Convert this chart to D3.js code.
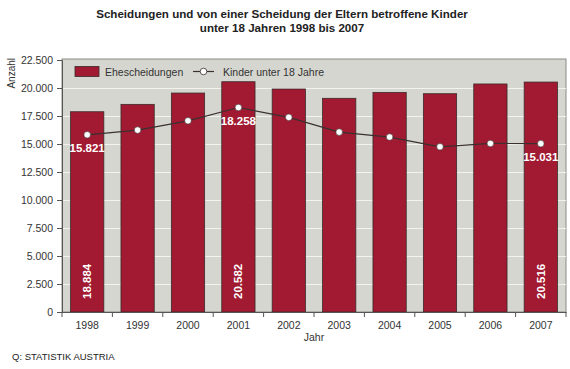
<!DOCTYPE html>
<html>
<head>
<meta charset="utf-8">
<script src="https://cdn.jsdelivr.net/npm/d3@7"></script>
<style>
  body { margin: 0; background: #fff; }
  text { font-family: "Liberation Sans", Arial, sans-serif; }
</style>
</head>
<body>
<div id="chart"></div>
<script>
// data
const years = ["1998", "1999", "2000", "2001", "2002", "2003", "2004", "2005", "2006", "2007"];
const scheidungen = [17880, 18540, 19550, 20560, 19910, 19080, 19610, 19490, 20360, 20530];
const kinder = [15821, 16240, 17070, 18258, 17380, 16060, 15620, 14750, 15050, 15031];
const yTicks = [0, 2500, 5000, 7500, 10000, 12500, 15000, 17500, 20000, 22500];
// labelled values (index -> text)
const barLabels = { 0: "18.884", 3: "20.582", 9: "20.516" };
const lineLabels = { 0: "15.821", 3: "18.258", 9: "15.031" };

const width = 570, height = 369;
const margin = { top: 60, right: 4, bottom: 57, left: 62 };

const svg = d3.select("#chart")
  .append("svg")
  .attr("width", width)
  .attr("height", height);

const x = d3.scaleBand()
  .domain(years)
  .range([margin.left, width - margin.right])
  .paddingInner(0.34)
  .paddingOuter(0.17);

const y = d3.scaleLinear()
  .domain([0, 22500])
  .range([height - margin.bottom, margin.top]);

const fmt = v => d3.format(",")(v).replace(/,/g, ".");

// plot background
svg.append("rect")
  .attr("x", margin.left)
  .attr("y", margin.top - 1)
  .attr("width", width - margin.right - margin.left)
  .attr("height", height - margin.bottom - margin.top + 1)
  .attr("fill", "#d6d6d0")
  .attr("stroke", "#8a8a86")
  .attr("stroke-width", 1);

// grid lines
svg.append("g")
  .selectAll("line")
  .data(yTicks.slice(1, -1))
  .join("line")
  .attr("x1", margin.left)
  .attr("x2", width - margin.right)
  .attr("y1", d => y(d) + 0.5)
  .attr("y2", d => y(d) + 0.5)
  .attr("stroke", "#f2f2ee")
  .attr("stroke-width", 1);

// bars
svg.append("g")
  .selectAll("rect")
  .data(scheidungen)
  .join("rect")
  .attr("x", (d, i) => x(years[i]))
  .attr("y", d => y(d))
  .attr("width", x.bandwidth())
  .attr("height", d => y(0) - y(d))
  .attr("fill", "#a11a31")
  .attr("stroke", "#3a2a2a")
  .attr("stroke-width", 0.8);

// y axis
const yAxis = svg.append("g")
  .attr("transform", `translate(${margin.left},0)`)
  .call(d3.axisLeft(y).tickValues(yTicks).tickFormat(fmt).tickSize(5).tickPadding(4));
yAxis.selectAll("text").attr("font-size", "10.5px").attr("fill", "#333");
yAxis.selectAll("line").attr("stroke", "#555");
yAxis.select(".domain").attr("stroke", "#555");

// x axis
const xAxis = svg.append("g")
  .attr("transform", `translate(0,${y(0)})`)
  .call(d3.axisBottom(x).tickSize(0).tickPadding(10));
xAxis.selectAll("text").attr("font-size", "10.5px").attr("fill", "#333");
xAxis.select(".domain").attr("stroke", "#555");
// ticks between categories
svg.append("g")
  .selectAll("line")
  .data(years.concat(["end"]))
  .join("line")
  .attr("x1", (d, i) => i < years.length ? x(years[i]) - x.step() * x.paddingInner() / 2 : width - margin.right)
  .attr("x2", (d, i) => i < years.length ? x(years[i]) - x.step() * x.paddingInner() / 2 : width - margin.right)
  .attr("y1", y(0))
  .attr("y2", y(0) + 5)
  .attr("stroke", "#555");

// line
const line = d3.line()
  .x((d, i) => x(years[i]) + x.bandwidth() / 2)
  .y(d => y(d));

svg.append("path")
  .datum(kinder)
  .attr("d", line)
  .attr("fill", "none")
  .attr("stroke", "#3a3030")
  .attr("stroke-width", 1.2);

svg.append("g")
  .selectAll("circle")
  .data(kinder)
  .join("circle")
  .attr("cx", (d, i) => x(years[i]) + x.bandwidth() / 2)
  .attr("cy", d => y(d))
  .attr("r", 3.3)
  .attr("fill", "#fff")
  .attr("stroke", "#3a3030")
  .attr("stroke-width", 0.6);

// line value labels
svg.append("g")
  .selectAll("text")
  .data(Object.keys(lineLabels))
  .join("text")
  .attr("x", i => x(years[i]) + x.bandwidth() / 2)
  .attr("y", i => y(kinder[i]) + 17)
  .attr("text-anchor", "middle")
  .attr("font-size", "11.5px")
  .attr("font-weight", "bold")
  .attr("fill", "#fff")
  .text(i => lineLabels[i]);

// bar value labels (rotated)
svg.append("g")
  .selectAll("text")
  .data(Object.keys(barLabels))
  .join("text")
  .attr("transform", i => `translate(${x(years[i]) + x.bandwidth() / 2 + 4},${y(0) - 13}) rotate(-90)`)
  .attr("text-anchor", "start")
  .attr("font-size", "11.5px")
  .attr("font-weight", "bold")
  .attr("fill", "#fff")
  .text(i => barLabels[i]);

// legend
const lg = svg.append("g");
lg.append("rect")
  .attr("x", 75).attr("y", 66.5).attr("width", 24).attr("height", 10)
  .attr("fill", "#a11a31").attr("stroke", "#3a2a2a").attr("stroke-width", 0.8);
lg.append("text")
  .attr("x", 105).attr("y", 75.5)
  .attr("font-size", "10.5px").attr("fill", "#333")
  .text("Ehescheidungen");
lg.append("line")
  .attr("x1", 193).attr("x2", 214).attr("y1", 71.5).attr("y2", 71.5)
  .attr("stroke", "#3a3030").attr("stroke-width", 1.2);
lg.append("circle")
  .attr("cx", 203.5).attr("cy", 71.5).attr("r", 3.3)
  .attr("fill", "#fff").attr("stroke", "#3a3030").attr("stroke-width", 0.8);
lg.append("text")
  .attr("x", 223).attr("y", 75.5)
  .attr("font-size", "10.5px").attr("fill", "#333")
  .text("Kinder unter 18 Jahre");

// title
svg.append("text")
  .attr("x", 282).attr("y", 18)
  .attr("text-anchor", "middle")
  .attr("font-size", "11.6px").attr("font-weight", "bold").attr("fill", "#222")
  .text("Scheidungen und von einer Scheidung der Eltern betroffene Kinder");
svg.append("text")
  .attr("x", 282).attr("y", 32)
  .attr("text-anchor", "middle")
  .attr("font-size", "11.6px").attr("font-weight", "bold").attr("fill", "#222")
  .text("unter 18 Jahren 1998 bis 2007");

// axis titles
svg.append("text")
  .attr("transform", "translate(15,58) rotate(-90)")
  .attr("text-anchor", "end")
  .attr("font-size", "10px").attr("fill", "#333")
  .text("Anzahl");
svg.append("text")
  .attr("x", (margin.left + width - margin.right) / 2)
  .attr("y", 341)
  .attr("text-anchor", "middle")
  .attr("font-size", "10.5px").attr("fill", "#333")
  .text("Jahr");

// source
svg.append("text")
  .attr("x", 12).attr("y", 360)
  .attr("font-size", "9.5px").attr("fill", "#222")
  .text("Q: STATISTIK AUSTRIA");
</script>
</body>
</html>
